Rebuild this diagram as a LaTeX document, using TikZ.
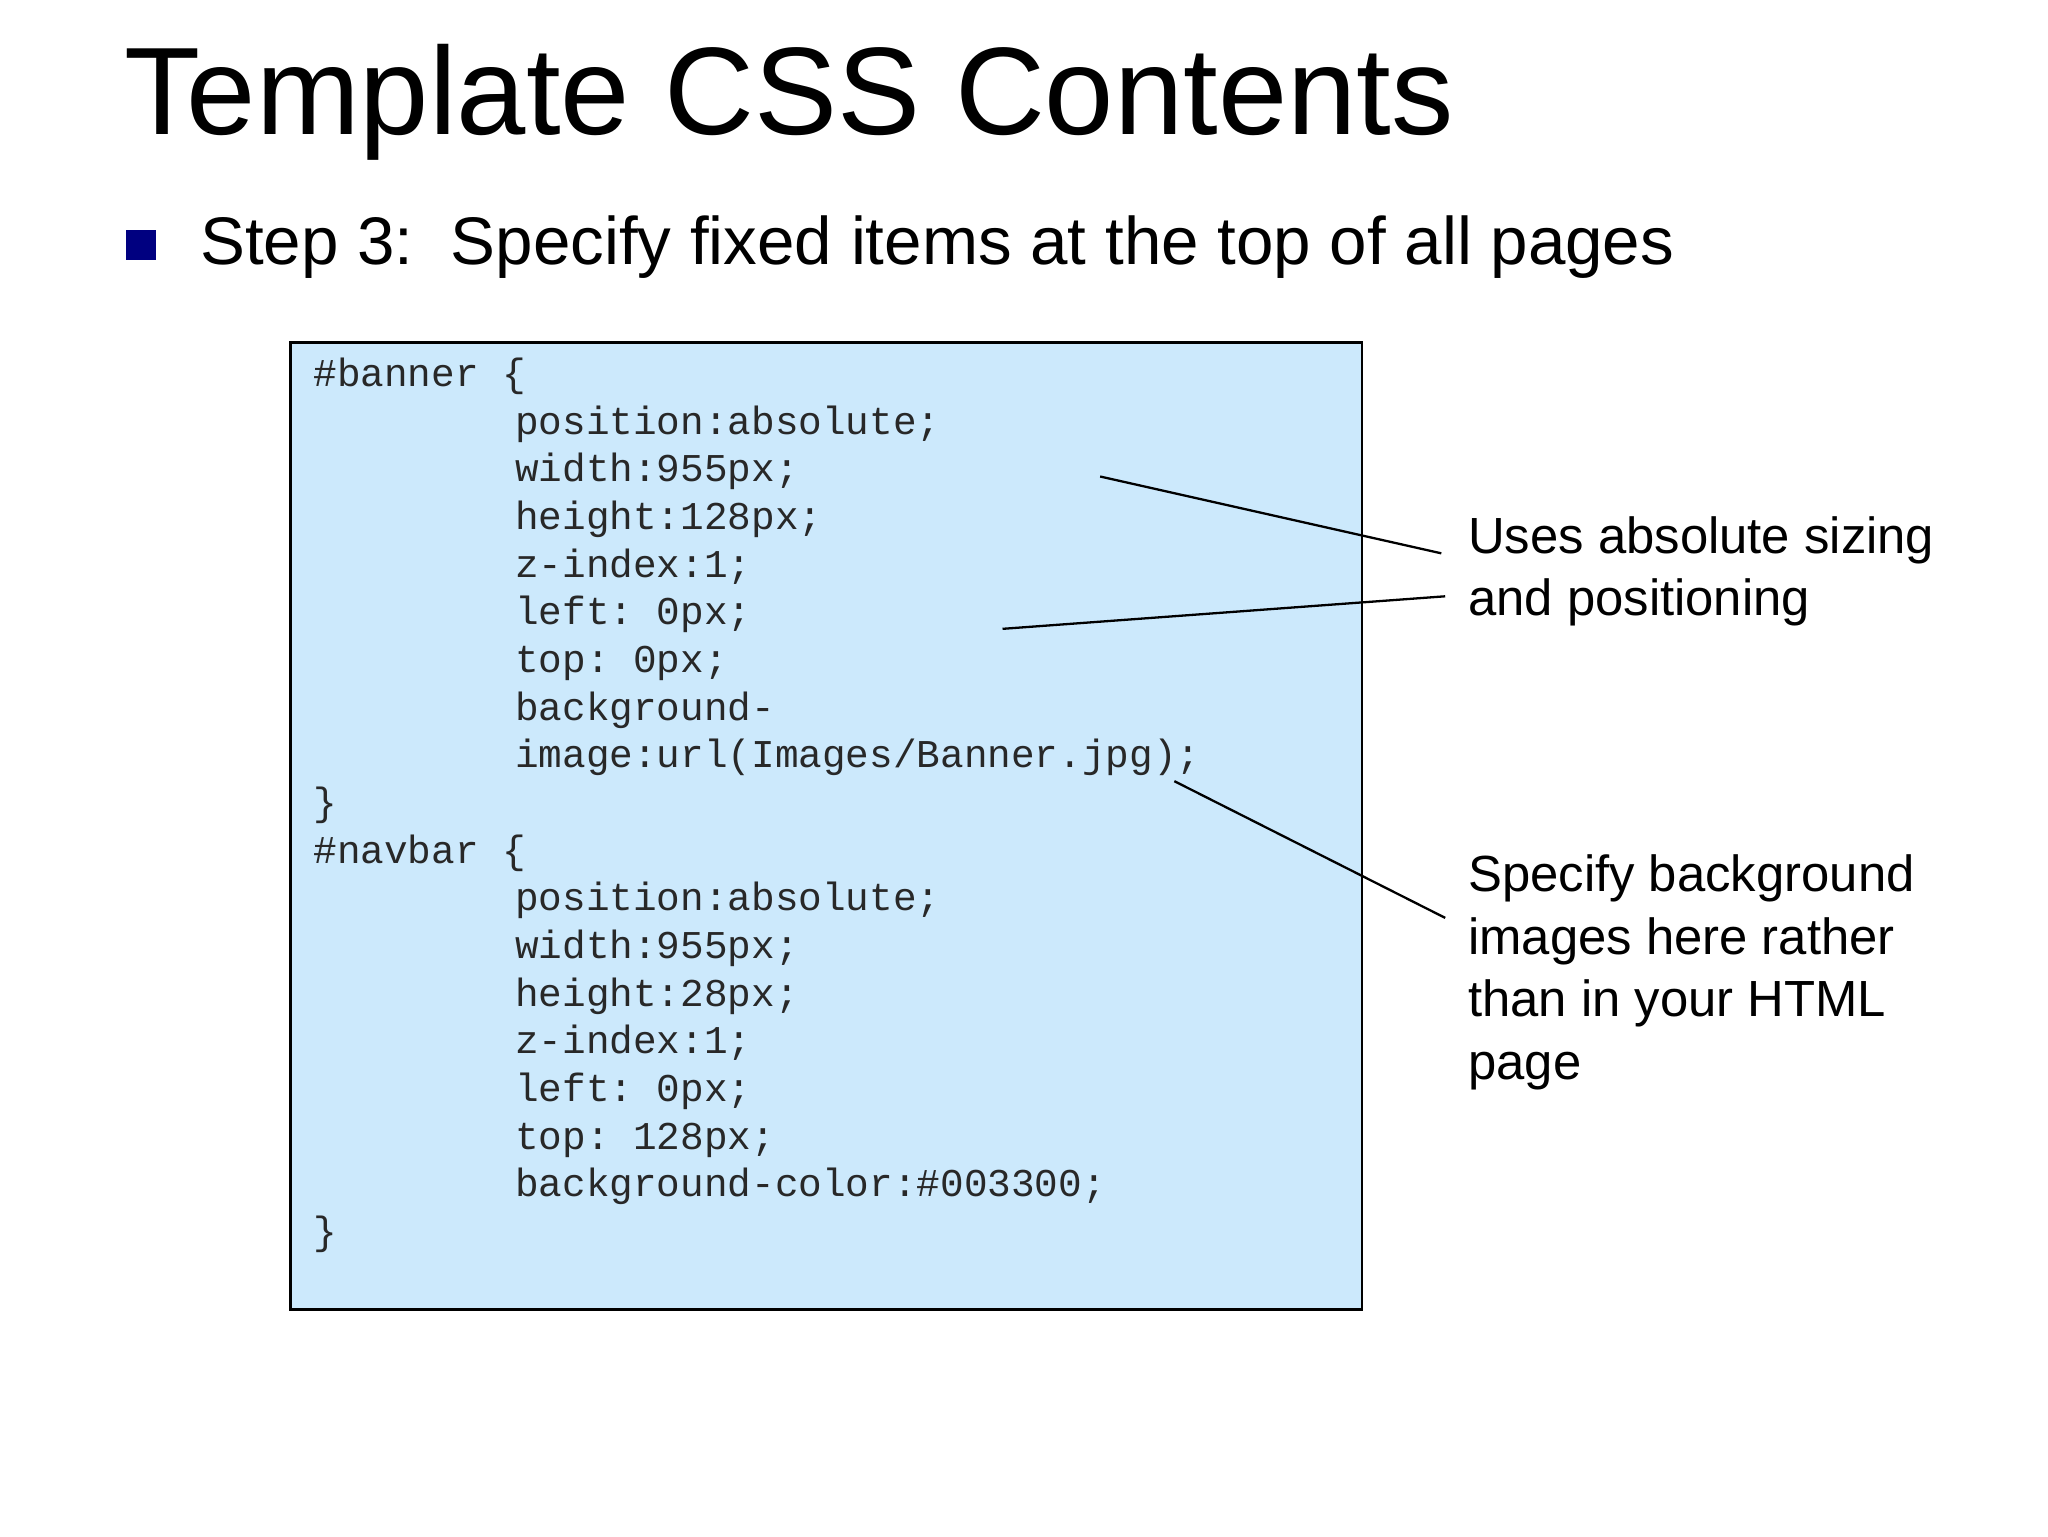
\documentclass[tikz,border=0pt]{standalone}
\usepackage{fontspec}
\setmainfont{Liberation Sans}
\setmonofont{Liberation Mono}
\begin{document}
\begin{tikzpicture}[x=0.01cm,y=-0.01cm,
  note/.style={anchor=base west,inner sep=0pt,font=\fontsize{11.1}{13}\selectfont},
  codeline/.style={anchor=base west,inner sep=0pt,text={rgb,255:red,40;green,40;blue,40},font=\fontsize{8.6}{10}\ttfamily},
  lead/.style={draw=black,line width=0.5pt}]
\useasboundingbox (0,0) rectangle (1573,1180);
\fill[white] (0,0) rectangle (1573,1180);
\node[anchor=base west,inner sep=0pt,font=\fontsize{27.2}{30}\selectfont] (title) at (95,103) {Template CSS Contents};
\fill[fill={rgb,255:red,0;green,0;blue,128}] (97,177) rectangle (120,200);
\node[anchor=base west,inner sep=0pt,font=\fontsize{14.7}{18}\selectfont] (step) at (153,203) {Step 3:\ \ Specify fixed items at the top of all pages};
\node[draw=black,line width=0.6pt,fill={rgb,255:red,204;green,233;blue,252},minimum width=823*0.01cm,minimum height=743*0.01cm,anchor=north west,inner sep=0pt] (box) at (222,262) {};
\foreach \t [count=\i from 0] in {\#banner \{,,,,,,,,,\},\#navbar \{,,,,,,,,\}}
  {\node[codeline] (c\i) at (240,297+36.6*\i) {\t};}
\foreach \t [count=\i from 0] in {position:absolute;,width:955px;,height:128px;,z-index:1;,left: 0px;,top: 0px;,background-,image:url(Images/Banner.jpg);}
  {\node[codeline] (a\i) at (395,333.6+36.6*\i) {\t};}
\foreach \t [count=\i from 0] in {position:absolute;,width:955px;,height:28px;,z-index:1;,left: 0px;,top: 128px;,background-color:\#003300;}
  {\node[codeline] (b\i) at (395,699.6+36.6*\i) {\t};}
\node[note] (n1) at (1127,425) {Uses absolute sizing};
\node[note] (n1b) at (1127,473) {and positioning};
\node[note] (n2) at (1127,685) {Specify background};
\node[note] (n2b) at (1127,733) {images here rather};
\node[note] (n2c) at (1127,781) {than in your HTML};
\node[note] (n2d) at (1127,829) {page};
\coordinate (w) at (845,366);
\coordinate (l) at (770,483);
\coordinate (b) at (902,600);
\coordinate (e1) at (1107,425);
\coordinate (e2) at (1110,458);
\coordinate (e3) at (1110,705);
\draw[lead] (w) -- (e1);
\draw[lead] (l) -- (e2);
\draw[lead] (b) -- (e3);
\end{tikzpicture}
\end{document}
